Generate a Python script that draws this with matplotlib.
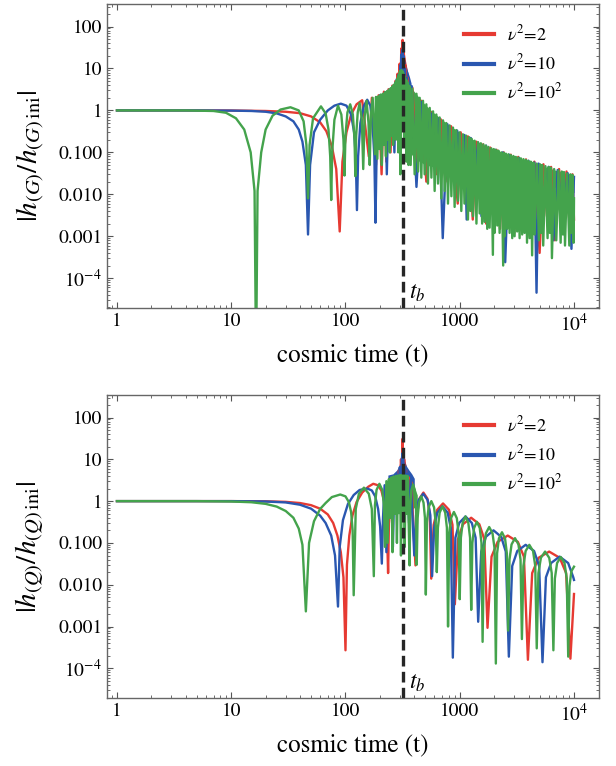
import matplotlib
matplotlib.use('Agg')
import matplotlib.pyplot as plt
import numpy as np

plt.rcParams['font.family'] = 'STIXGeneral'
plt.rcParams['mathtext.fontset'] = 'stix'

t_b = 316
labels = [r'$\nu^2$=2', r'$\nu^2$=10', r'$\nu^2$=10$^2$']
colors = ['#e63a32', '#2a57b0', '#44a34c']

# ---------------- top panel: |h_(G)/h_(G)ini| ----------------
g_red = [(1, 1), (5, 1), (10, 0.995), (20, 0.97), (30, 0.93), (40, 0.86), (50, 0.72), (60, 0.52),
         (68, 0.32), (76, 0.14), (83, 0.04), (89, 0.0013), (94, 0.06), (102, 0.3), (112, 0.8),
         (125, 1.4), (140, 1.75), (160, 0.08), (170, 2.0), (185, 0.05), (195, 2.3), (207, 0.03),
         (217, 2.8), (228, 0.06), (238, 3.2), (248, 0.1), (257, 3.9), (265, 0.2), (273, 5.0),
         (280, 0.4), (286, 7.5), (292, 0.8), (298, 13), (302, 2), (308, 30), (312, 5), (316, 48),
         (320, 5), (324, 28), (328, 1.5), (333, 12), (340, 0.4), (350, 6), (365, 0.15), (385, 3.5),
         (420, 0.04), (460, 1.7), (510, 0.02), (560, 0.9), (620, 0.03), (680, 0.62), (750, 0.02),
         (840, 0.42), (960, 0.006), (1020, 0.3), (1080, 0.02), (1180, 0.24), (1300, 0.0025),
         (1400, 0.18), (1480, 0.01), (1600, 0.155), (1700, 0.002), (1850, 0.13), (1950, 0.01),
         (2100, 0.115), (2250, 0.0015), (2430, 0.1), (2600, 0.005), (2800, 0.088), (3000, 0.0012),
         (3250, 0.078), (3500, 0.006), (3800, 0.068), (4100, 0.001), (4500, 0.06), (5000, 0.0004),
         (5400, 0.052), (5800, 0.003), (6300, 0.045), (6800, 0.0008), (7400, 0.04), (8000, 0.004),
         (8600, 0.035), (9300, 0.0008), (9700, 0.03), (10000, 0.0025)]

g_blue = [(1, 1), (5, 1), (10, 0.99), (15, 0.97), (20, 0.93), (25, 0.85), (30, 0.72), (35, 0.55),
          (39, 0.35), (42, 0.18), (45, 0.05), (47, 0.0011), (49, 0.05), (53, 0.3), (60, 0.6),
          (70, 1.0), (80, 1.3), (91, 1.45), (102, 1.3), (112, 0.8), (119, 0.3), (123, 0.08),
          (126, 0.0042), (129, 0.08), (135, 0.5), (145, 1.3), (155, 1.8), (165, 1.3), (173, 0.4),
          (179, 0.08), (183, 0.0021), (187, 0.08), (193, 0.6), (200, 2.3), (215, 0.2), (222, 2.7),
          (230, 0.03), (240, 3.1), (250, 0.3), (258, 3.6), (268, 0.1), (276, 4.8), (284, 0.5),
          (290, 7), (296, 1.0), (302, 12), (306, 2), (310, 22), (313, 3), (316, 28), (319, 3),
          (322, 20), (326, 1.5), (330, 10), (336, 0.5), (345, 6), (360, 0.2), (380, 3.8),
          (418, 0.015), (460, 1.6), (500, 0.08), (560, 0.85), (620, 0.05), (660, 0.65),
          (710, 0.0009), (780, 0.47), (860, 0.03), (950, 0.33), (1050, 0.02), (1100, 0.26),
          (1150, 0.0025), (1250, 0.22), (1350, 0.03), (1450, 0.17), (1550, 0.003), (1700, 0.145),
          (1850, 0.02), (2050, 0.115), (2250, 0.01), (2380, 0.1), (2500, 0.00024), (2700, 0.088),
          (3000, 0.01), (3300, 0.074), (3600, 0.005), (4000, 0.063), (4300, 0.01), (4500, 0.057),
          (4700, 0.000045), (4900, 0.054), (5400, 0.006), (6000, 0.045), (6600, 0.0008),
          (7200, 0.038), (8000, 0.004), (8800, 0.032), (9500, 0.0005), (10000, 0.026)]

g_green = [(1, 1), (4, 1), (7, 0.97), (9, 0.88), (11, 0.65), (13, 0.35), (14.8, 0.1), (16, 0.012),
           (16.5, 1e-6), (17, 0.012), (18.3, 0.1), (20, 0.35), (23, 0.75), (27, 1.05), (33, 1.19),
           (39, 1.0), (43, 0.55), (45.5, 0.15), (47, 0.008), (48.5, 0.15), (52, 0.65), (61, 1.25),
           (67, 0.85), (71, 0.35), (73.5, 0.08), (75, 0.0073), (76.5, 0.1), (80, 0.6), (86, 1.3),
           (92, 0.8), (96, 0.2), (98, 0.028), (100, 0.25), (104, 0.9), (110, 1.4), (116, 0.8),
           (120, 0.2), (122, 0.027), (124, 0.25), (128, 0.9), (133, 1.5), (139, 0.6), (143, 0.04),
           (147, 0.7), (153, 1.7), (159, 0.5), (163, 0.05), (167, 0.8), (173, 2.0),
           (181, 0.09), (185, 2.1), (190, 0.07), (195, 2.2), (199, 0.12), (204, 2.4), (208, 0.05),
           (213, 2.5), (217, 0.15), (222, 2.7), (226, 0.08), (231, 2.9), (235, 0.2), (240, 3.1),
           (244, 0.1), (249, 3.4), (253, 0.25), (257, 3.7), (261, 0.15), (265, 4.1), (269, 0.3),
           (273, 4.6), (276, 0.2), (280, 5.2), (283, 0.4), (287, 6.0), (290, 0.1), (293, 7.0),
           (296, 0.5), (299, 8.4), (302, 0.03), (305, 9.0), (308, 0.6), (311, 9.0), (314, 0.4),
           (317, 8.5), (320, 0.5), (323, 7.5), (326, 0.15), (330, 6.5), (334, 0.3), (338, 5.5),
           (341, 0.06), (345, 5.0), (348, 0.15), (352, 4.5), (356, 0.05), (364, 3.8), (372, 0.05),
           (385, 3.3), (403, 0.03), (418, 2.5), (432, 0.035), (446, 2.0), (461, 0.025), (477, 1.7),
           (493, 0.03), (510, 1.4), (527, 0.018), (546, 1.15), (565, 0.025), (584, 0.95),
           (603, 0.012), (624, 0.8), (645, 0.018), (667, 0.68), (690, 0.008), (714, 0.58),
           (738, 0.012), (763, 0.5), (789, 0.006), (816, 0.44), (845, 0.009), (873, 0.39),
           (902, 0.005), (933, 0.34), (965, 0.007), (998, 0.3), (1032, 0.004), (1066, 0.27),
           (1100, 0.006), (1140, 0.25), (1180, 0.0025), (1210, 0.23), (1240, 0.004), (1273, 0.21),
           (1306, 0.003), (1350, 0.19), (1400, 0.002), (1445, 0.175), (1493, 0.0035), (1530, 0.165),
           (1570, 0.002), (1610, 0.155), (1651, 0.0022), (1695, 0.145), (1740, 0.0015), (1783, 0.135),
           (1826, 0.0016), (1888, 0.125), (1950, 0.00036), (1985, 0.12), (2019, 0.0012), (2075, 0.115),
           (2130, 0.0018), (2180, 0.11), (2233, 0.0012), (2315, 0.1), (2400, 0.0002), (2435, 0.097),
           (2470, 0.001), (2535, 0.093), (2600, 0.0015), (2665, 0.09), (2732, 0.0012), (2805, 0.086),
           (2880, 0.0009), (2950, 0.082), (3021, 0.001), (3100, 0.078), (3180, 0.0013), (3260, 0.075),
           (3342, 0.0009), (3430, 0.072), (3520, 0.0011), (3610, 0.069), (3696, 0.0012), (3790, 0.066),
           (3880, 0.0007), (3980, 0.063), (4088, 0.0009), (4190, 0.06), (4300, 0.00035), (4410, 0.057),
           (4522, 0.0011), (4720, 0.054), (4929, 0.0008), (5040, 0.052), (5150, 0.0012), (5260, 0.05),
           (5377, 0.0006), (5620, 0.047), (5871, 0.0009), (6010, 0.045), (6150, 0.0012), (6280, 0.043),
           (6410, 0.0003), (6700, 0.04), (7000, 0.0008), (7310, 0.037), (7640, 0.0007), (7820, 0.035),
           (8000, 0.0011), (8170, 0.034), (8340, 0.0006), (8710, 0.031), (9100, 0.0006), (9300, 0.03),
           (9500, 0.0012), (9710, 0.029), (9930, 0.0007), (10000, 0.008)]

# dense (unresolved) oscillation bands: t, upper edge, lower edge
g_red_band = [(290, 8, 3), (300, 13, 3.5), (308, 25, 5), (316, 48, 6), (324, 30, 5),
              (333, 17, 4), (345, 10, 3), (355, 7, 3)]
g_blue_band = [(270, 5.5, 2), (280, 7, 2), (290, 9, 2.5), (300, 13, 3), (308, 19, 3.5),
               (316, 28, 4), (325, 20, 3.5), (335, 13, 3), (348, 9, 2.5), (362, 6.5, 2),
               (375, 4.5, 2)]
g_green_band = [(220, 2.7, 1.5), (240, 3.3, 0.9), (260, 4.0, 0.6), (280, 5.3, 0.4), (298, 8.4, 0.5),
                (310, 9.0, 0.6), (320, 8.0, 0.5), (335, 6.0, 0.25), (350, 4.6, 0.15), (370, 3.7, 0.1),
                (400, 2.8, 0.07), (450, 1.9, 0.06), (500, 1.35, 0.05), (600, 0.85, 0.045),
                (800, 0.45, 0.04), (1000, 0.3, 0.04), (1500, 0.165, 0.035), (2000, 0.118, 0.03),
                (3000, 0.08, 0.025), (5000, 0.05, 0.018), (7000, 0.037, 0.014), (10000, 0.027, 0.011)]

# ---------------- bottom panel: |h_(Q)/h_(Q)ini| ----------------
q_red = [(1, 1), (10, 1), (20, 0.99), (30, 0.96), (40, 0.9), (50, 0.8), (60, 0.66), (70, 0.48),
         (78, 0.3), (85, 0.15), (91, 0.06), (96, 0.015), (100, 0.00027), (103, 0.03), (108, 0.15),
         (115, 0.45), (125, 0.95), (140, 1.6), (158, 2.2), (175, 2.6), (192, 2.4), (206, 1.8),
         (218, 1.0), (227, 0.4), (232, 0.12), (236, 0.019), (240, 0.3), (248, 2.8), (256, 0.3),
         (264, 3.2), (272, 0.5), (280, 3.8), (287, 0.7), (294, 5.5), (300, 1.2), (306, 10), (311, 3),
         (316, 31), (321, 3), (326, 10), (332, 1.2), (338, 5.5), (346, 0.7), (355, 3.8), (365, 0.4),
         (378, 2.8), (394, 0.2), (410, 0.029), (424, 0.5), (444, 1.15), (481, 1.6), (521, 1.15),
         (546, 0.5), (563, 0.014), (591, 0.27), (635, 0.62), (714, 0.88), (805, 0.62), (864, 0.27),
         (906, 0.0034), (967, 0.124), (1068, 0.28), (1259, 0.4), (1484, 0.28), (1639, 0.124),
         (1750, 0.00093), (1898, 0.047), (2146, 0.106), (2630, 0.15), (3225, 0.106), (3645, 0.047),
         (3950, 0.00016), (4305, 0.019), (4894, 0.044), (6061, 0.062), (7499, 0.044), (8530, 0.019),
         (9300, 0.00017), (10000, 0.006)]

q_blue = [(1, 1), (10, 1), (20, 0.98), (30, 0.93), (40, 0.82), (50, 0.66), (60, 0.45), (67, 0.3),
          (75, 0.15), (81, 0.05), (86, 0.003), (89, 0.08), (95, 0.35), (105, 0.85), (118, 1.4),
          (133, 1.85), (155, 2.0), (170, 1.8), (182, 1.3), (193, 0.65), (201, 0.25), (208, 0.032),
          (213, 0.4), (220, 2.4), (228, 0.06), (236, 2.6), (244, 0.5), (252, 2.9), (260, 0.08),
          (268, 3.4), (276, 0.7), (284, 4.3), (292, 1.0), (299, 6.5), (305, 1.5), (311, 10), (316, 14),
          (321, 10), (327, 1.5), (333, 6.5), (340, 0.8), (348, 4.5), (360, 0.3), (372, 3.2), (386, 0.4),
          (400, 0.05), (415, 0.46), (437, 1.06), (479, 1.5), (524, 1.06), (553, 0.46), (573, 0.016),
          (597, 0.23), (636, 0.53), (706, 0.75), (784, 0.53), (834, 0.23), (870, 0.00018),
          (916, 0.133), (989, 0.3), (1123, 0.43), (1276, 0.3), (1377, 0.133), (1450, 0.0013),
          (1542, 0.062), (1692, 0.14), (1975, 0.2), (2306, 0.14), (2529, 0.062), (2690, 0.00019),
          (2879, 0.028), (3187, 0.064), (3776, 0.09), (4475, 0.064), (4953, 0.028), (5300, 0.00014),
          (5680, 0.015), (6300, 0.033), (7480, 0.047), (8890, 0.033), (9860, 0.015), (10000, 0.013)]

q_green = [(1, 1), (5, 1), (10, 0.98), (15, 0.94), (20, 0.86), (25, 0.74), (30, 0.58), (35, 0.4),
           (39, 0.22), (42, 0.09), (45, 0.0023), (48, 0.1), (53, 0.33), (60, 0.65), (67, 0.9),
           (76, 1.25), (90, 1.44), (100, 1.3), (107, 0.95), (112, 0.55), (115.5, 0.2), (118, 0.0056),
           (123, 0.65), (131, 1.5), (145, 2.1), (160, 1.5), (170, 0.65), (177, 0.016), (181, 0.8),
           (187, 1.85), (198, 2.6), (210, 1.85), (217, 0.8), (222, 0.08), (228, 3.0), (234, 0.1),
           (240, 3.4), (246, 0.4), (252, 3.7), (258, 0.06), (264, 3.9), (270, 0.5), (276, 4.0),
           (282, 0.1), (288, 4.1), (294, 0.6), (300, 4.2), (306, 0.05), (312, 4.2), (318, 0.7),
           (324, 4.2), (330, 0.08), (336, 4.1), (342, 0.5), (350, 4.0), (364, 0.029), (369, 0.78),
           (377, 1.8), (391, 2.5), (405, 1.8), (414, 0.78), (420, 0.03), (428, 0.4), (440, 0.92),
           (461, 1.3), (482, 0.92), (496, 0.4), (505, 0.0058), (516, 0.31), (534, 0.71), (564, 1.0),
           (596, 0.71), (616, 0.31), (630, 0.02), (644, 0.23), (667, 0.53), (706, 0.75), (746, 0.53),
           (772, 0.23), (790, 0.001), (809, 0.17), (838, 0.39), (889, 0.55), (943, 0.39), (977, 0.17),
           (1000, 0.0045), (1023, 0.133), (1060, 0.3), (1122, 0.43), (1189, 0.3), (1231, 0.133),
           (1260, 0.0025), (1290, 0.1), (1335, 0.227), (1413, 0.32), (1497, 0.227), (1549, 0.1),
           (1585, 0.00043), (1628, 0.074), (1694, 0.17), (1811, 0.24), (1936, 0.17), (2016, 0.074),
           (2070, 0.00013), (2122, 0.056), (2202, 0.128), (2342, 0.18), (2491, 0.128), (2585, 0.056),
           (2650, 0.0008), (2725, 0.04), (2841, 0.092), (3045, 0.13), (3265, 0.092), (3404, 0.04),
           (3500, 0.0005), (3606, 0.028), (3773, 0.064), (4064, 0.09), (4381, 0.064), (4581, 0.028),
           (4720, 0.0003), (4881, 0.019), (5133, 0.044), (5581, 0.062), (6069, 0.044), (6383, 0.019),
           (6600, 0.00027), (6800, 0.014), (7112, 0.033), (7664, 0.046), (8260, 0.033), (8640, 0.014),
           (8900, 0.00019), (9130, 0.0093), (9485, 0.021), (10000, 0.027)]

q_red_band = [(290, 6, 2), (300, 9, 2.5), (308, 15, 3), (316, 31, 4), (324, 15, 3),
              (332, 9, 2.5), (345, 6, 2)]
q_blue_band = [(235, 4.2, 1), (260, 4.5, 1), (280, 5.5, 1), (295, 7, 1), (305, 9.5, 1.2),
               (316, 14, 1.5), (327, 9.5, 1.2), (340, 7, 1), (360, 5.5, 1), (380, 4.5, 1),
               (400, 3.5, 1)]
q_green_band = [(225, 2.8, 1.2), (240, 3.5, 0.8), (260, 3.9, 0.6), (280, 4.1, 0.5), (300, 4.2, 0.5),
                (316, 4.2, 0.6), (330, 4.2, 0.55), (350, 4.0, 0.5), (375, 3.2, 0.6), (400, 2.2, 0.7),
                (425, 1.4, 0.9)]

panels = [
    ([g_red, g_blue, g_green], [g_red_band, g_blue_band, g_green_band],
     r'$|h_{(G)}/h_{(G)\,\mathrm{ini}}|$', [0.1737, 0.598, 0.7987, 0.3969]),
    ([q_red, q_blue, q_green], [q_red_band, q_blue_band, q_green_band],
     r'$|h_{(Q)}/h_{(Q)\,\mathrm{ini}}|$', [0.1737, 0.0888, 0.7987, 0.3956]),
]

yticks = [1e2, 1e1, 1, 1e-1, 1e-2, 1e-3, 1e-4]
ytick_labels = ['100', '10', '1', '0.100', '0.010', '0.001', r'$10^{-4}$']
xticks = [1, 10, 100, 1000, 1e4]
xtick_labels = ['1', '10', '100', '1000', r'$10^4$']

fig = plt.figure(figsize=(6.16, 7.66), dpi=100)

for curves, bands, ylab, rect in panels:
    ax = fig.add_axes(rect)
    for pts, band, c, lab in zip(curves, bands, colors, labels):
        b = np.array(band)
        ax.fill_between(b[:, 0], b[:, 2], b[:, 1], color=c, lw=0)
        p = np.array(pts)
        ax.plot(p[:, 0], p[:, 1], color=c, lw=1.7, label=lab)
    ax.set_xscale('log')
    ax.set_yscale('log')
    ax.set_xlim(0.818, 16550)
    ax.set_ylim(1.95e-5, 347)
    ax.axvline(t_b, color='#262626', lw=2.4, ls=(0, (3.2, 1.6)), zorder=5)
    ax.text(358, 4.4e-5, r'$t_b$', fontsize=17, va='center', ha='left')

    ax.set_yticks(yticks)
    ax.set_yticklabels(ytick_labels)
    ax.set_xticks(xticks)
    ax.set_xticklabels(xtick_labels)
    ax.tick_params(which='both', direction='in', top=True, right=True, colors='#555555',
                   labelcolor='black', labelsize=14)
    ax.tick_params(which='major', length=4, width=0.8)
    ax.tick_params(which='minor', length=2, width=0.6)
    for s in ax.spines.values():
        s.set_color('#666666')
        s.set_linewidth(1.0)

    ax.set_xlabel('cosmic time (t)', fontsize=18, labelpad=6)
    ax.set_ylabel(ylab, fontsize=21, labelpad=8)

    leg = ax.legend(loc='upper left', bbox_to_anchor=(0.71, 0.955), frameon=False, fontsize=13,
                    handlelength=1.7, handletextpad=0.7, labelspacing=0.5, borderaxespad=0)
    for ln in leg.get_lines():
        ln.set_linewidth(3)

fig.savefig('out.png', dpi=100)
